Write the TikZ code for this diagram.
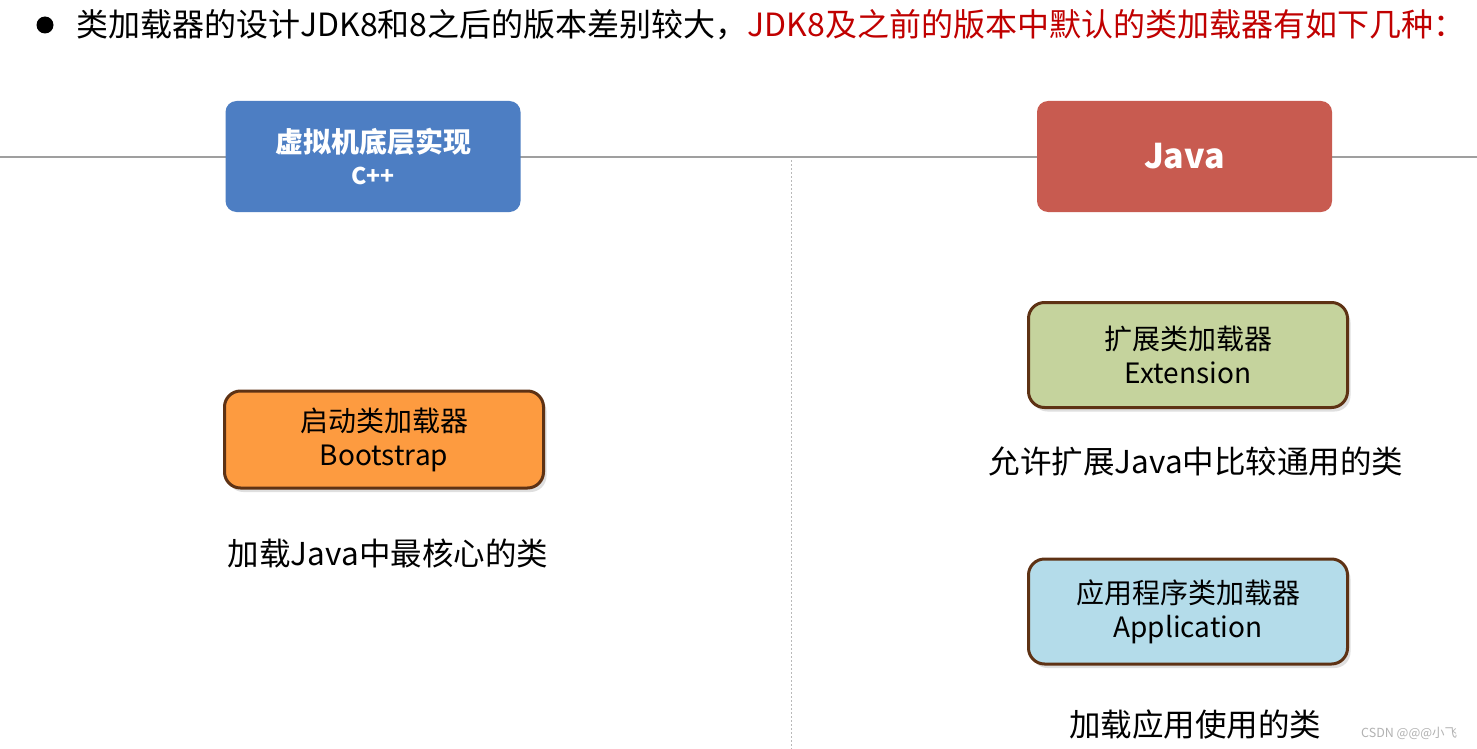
\documentclass[tikz,border=0pt]{standalone}
\usepackage{fontspec}
\setmainfont{Noto Sans CJK SC}
\usetikzlibrary{shadows}
\definecolor{titlered}{HTML}{C00000}
\definecolor{vmblue}{HTML}{4D7EC3}
\definecolor{javared}{HTML}{C85B50}
\definecolor{bootorange}{HTML}{FD9B40}
\definecolor{extgreen}{HTML}{C5D39D}
\definecolor{appblue}{HTML}{B4DCEA}
\definecolor{boxbrown}{HTML}{5E3214}
\tikzset{
  headbox/.style={rounded corners=11pt, draw=none, text=white, font=\bfseries,
    minimum width=295pt, minimum height=111pt, align=center, inner sep=0pt},
  loaderbox/.style={rounded corners=16pt, draw=boxbrown, line width=3pt,
    minimum width=319pt, align=center, inner sep=0pt,
    font=\fontsize{28}{34}\selectfont,
    drop shadow={opacity=0.25, shadow xshift=3pt, shadow yshift=-4pt}},
  desc/.style={font=\fontsize{31.5}{36}\selectfont, inner sep=0pt},
}
\begin{document}
\begin{tikzpicture}[x=1pt,y=-1pt]
\useasboundingbox (0,0) rectangle (1477,749);
\fill[white] (0,0) rectangle (1477,749);
% separators
\coordinate (hl) at (0,157);
\coordinate (hr) at (1477,157);
\draw[gray!75, line width=1.1pt] (hl) -- (hr);
\coordinate (vt) at (791,160);
\coordinate (vb) at (791,749);
\draw[gray!55, line width=0.8pt, dash pattern=on 2pt off 2pt] (vt) -- (vb);
% title
\node[circle, fill=black, inner sep=0pt, minimum size=17pt] (bullet) at (45,25) {};
\node[anchor=west, inner sep=0pt, font=\fontsize{32}{36}\selectfont] (title) at (76,25)
  {类加载器的设计JDK8和8之后的版本差别较大，\textcolor{titlered}{JDK8及之前的版本中默认的类加载器有如下几种：}};
% header boxes
\node[headbox, fill=vmblue] (vm) at (373,156.5)
  {\fontsize{28}{34}\selectfont 虚拟机底层实现\\[11pt]\fontsize{23}{26}\selectfont C++};
\node[headbox, fill=javared, font=\bfseries\fontsize{34}{38}\selectfont] (java) at (1184.5,156.5) {Java};
% loaders
\node[loaderbox, fill=bootorange, minimum height=97pt] (boot) at (384,439.5)
  {启动类加载器\\Bootstrap};
\node[desc] (bootd) at (388,553) {加载Java中最核心的类};
\node[loaderbox, fill=extgreen, minimum height=105pt] (ext) at (1188,355)
  {扩展类加载器\\Extension};
\node[desc] (extd) at (1196,461) {允许扩展Java中比较通用的类};
\node[loaderbox, fill=appblue, minimum height=105pt] (app) at (1188,611.5)
  {应用程序类加载器\\Application};
\node[desc] (appd) at (1195,725) {加载应用使用的类};
\node[anchor=west, inner sep=0pt, text=gray!60, font=\fontsize{12.5}{14}\selectfont] (wm) at (1361,733) {CSDN @@@小飞};
\end{tikzpicture}
\end{document}
